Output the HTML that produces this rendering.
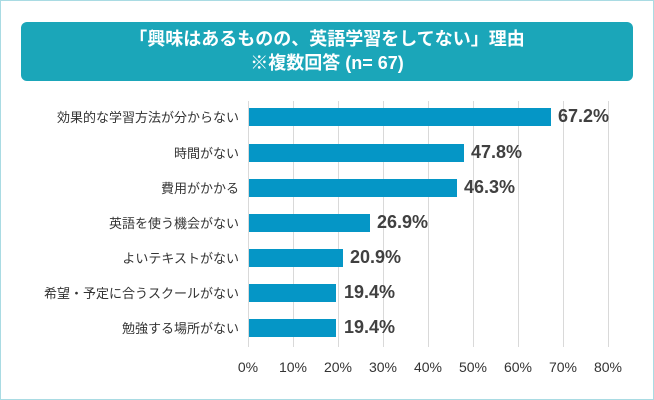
<!DOCTYPE html>
<html><head><meta charset="utf-8"><style>
body{margin:0;background:#fff}
.wrap{position:relative;width:652px;height:398px;border:1px solid #a9dbe3;overflow:hidden;font-family:"Liberation Sans","Noto Sans CJK JP",sans-serif}
.title{position:absolute;left:20px;top:21px;width:612px;height:59px;background:#1ba6b9;border-radius:6px;color:#fff;font-weight:bold;font-size:18px;text-align:center;line-height:24px;padding-top:5px;box-sizing:border-box}
.grid{position:absolute;top:100px;width:1px;height:246px;background:#d9d9d9}
.bar{position:absolute;left:248px;height:18px;background:#0596c6}
.lab{position:absolute;right:414px;font-size:13px;color:#333;white-space:nowrap}
.val{position:absolute;font-size:18px;font-weight:bold;color:#404040}
.tick{position:absolute;top:358px;font-size:14px;color:#333;width:44px;text-align:center}
</style></head><body><div class="wrap">
<div class="title">「興味はあるものの、英語学習をしてない」理由<br>※複数回答 (n= 67)</div>
<div class="grid" style="left:247px"></div><div class="grid" style="left:292px"></div><div class="grid" style="left:337px"></div><div class="grid" style="left:382px"></div><div class="grid" style="left:427px"></div><div class="grid" style="left:472px"></div><div class="grid" style="left:517px"></div><div class="grid" style="left:562px"></div><div class="grid" style="left:607px"></div>

<div class="lab" style="top:106px">効果的な学習方法が分からない</div><div class="bar" style="top:107px;width:302px"></div><div class="val" style="left:557px;top:105px">67.2%</div>
<div class="lab" style="top:142px">時間がない</div><div class="bar" style="top:143px;width:215px"></div><div class="val" style="left:470px;top:141px">47.8%</div>
<div class="lab" style="top:177px">費用がかかる</div><div class="bar" style="top:178px;width:208px"></div><div class="val" style="left:463px;top:176px">46.3%</div>
<div class="lab" style="top:212px">英語を使う機会がない</div><div class="bar" style="top:213px;width:121px"></div><div class="val" style="left:376px;top:211px">26.9%</div>
<div class="lab" style="top:247px">よいテキストがない</div><div class="bar" style="top:248px;width:94px"></div><div class="val" style="left:349px;top:246px">20.9%</div>
<div class="lab" style="top:282px">希望・予定に合うスクールがない</div><div class="bar" style="top:283px;width:87px"></div><div class="val" style="left:343px;top:281px">19.4%</div>
<div class="lab" style="top:317px">勉強する場所がない</div><div class="bar" style="top:318px;width:87px"></div><div class="val" style="left:343px;top:316px">19.4%</div>

<div class="tick" style="left:225px">0%</div><div class="tick" style="left:270px">10%</div><div class="tick" style="left:315px">20%</div><div class="tick" style="left:360px">30%</div><div class="tick" style="left:405px">40%</div><div class="tick" style="left:450px">50%</div><div class="tick" style="left:495px">60%</div><div class="tick" style="left:540px">70%</div><div class="tick" style="left:585px">80%</div>
</div></body></html>
